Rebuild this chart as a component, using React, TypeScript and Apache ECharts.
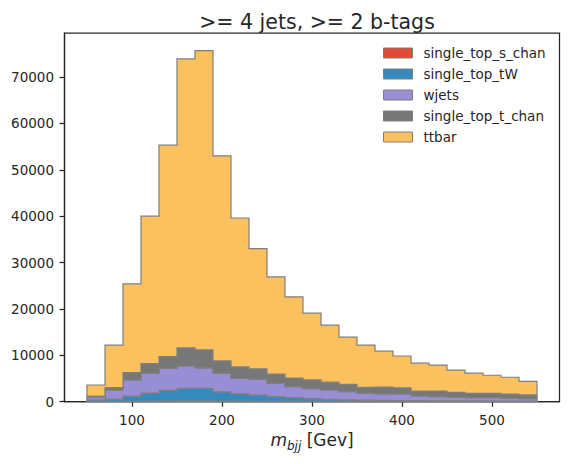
import React, { useEffect, useRef } from "react";
import * as echarts from "echarts";

const binEdges = [50, 70, 90, 110, 130, 150, 170, 190, 210, 230, 250, 270, 290, 310, 330, 350, 370, 390, 410, 430, 450, 470, 490, 510, 530, 550];

const singleTopSChan = [20, 40, 80, 120, 160, 200, 200, 150, 120, 100, 80, 70, 60, 50, 40, 35, 30, 28, 25, 22, 20, 18, 16, 15, 14];
const singleTopTW = [380, 510, 1120, 1730, 2290, 2700, 2700, 1950, 1580, 1300, 1020, 830, 590, 470, 360, 285, 250, 222, 195, 178, 160, 142, 124, 115, 106];
const wjets = [550, 1950, 3500, 4250, 4750, 4800, 4400, 4000, 3300, 3430, 2830, 2340, 2160, 2000, 1760, 1480, 1420, 1410, 1010, 880, 770, 700, 720, 600, 530];
const singleTopTChan = [250, 550, 1550, 2100, 2500, 3900, 3900, 2700, 2500, 2270, 2020, 1860, 1890, 1680, 1590, 1300, 1450, 1340, 1070, 1220, 1050, 940, 940, 920, 800];
const ttbar = [2400, 9150, 19150, 31800, 45600, 62300, 64500, 44200, 32100, 25900, 20950, 17500, 14400, 12300, 10150, 9100, 7750, 6850, 6000, 5600, 4800, 4350, 3900, 3620, 2950];

const seriesNames = ["single_top_s_chan", "single_top_tW", "wjets", "single_top_t_chan", "ttbar"];
const seriesColors = ["#E24A33", "#348ABD", "#988ED5", "#777777", "#FBC15E"];

const xTickValues = [100, 200, 300, 400, 500];
const yTickValues = [0, 10000, 20000, 30000, 40000, 50000, 60000, 70000];

const TEXT = "#262626";
const EDGE = "#7f7f7f";
const FONT = "DejaVu Sans";

export default function App() {
  const ref = useRef<HTMLDivElement>(null);

  useEffect(() => {
    const chart = echarts.init(ref.current!, null, { renderer: "svg" });
    const layers = [singleTopSChan, singleTopTW, wjets, singleTopTChan, ttbar];
    const nBins = binEdges.length - 1;
    const bases: number[][] = [];
    const tops: number[][] = [];
    let running: number[] = new Array(nBins).fill(0);
    layers.forEach((l) => {
      bases.push(running.slice());
      running = running.map((v, i) => v + l[i]);
      tops.push(running.slice());
    });
    const yMax = Math.max(...running) * 1.05;
    const span = binEdges[nBins] - binEdges[0];
    const xMin = binEdges[0] - span * 0.05;
    const xMax = binEdges[nBins] + span * 0.05;

    const series = layers.map((l, k) => ({
      type: "custom",
      name: seriesNames[k],
      itemStyle: { color: seriesColors[k], borderColor: EDGE, borderWidth: 1 },
      data: l.map((v, i) => [binEdges[i], binEdges[i + 1], bases[k][i], tops[k][i]]),
      encode: { x: [0, 1], y: [2, 3] },
      renderItem: (params: any, api: any) => {
        if (params.dataIndex !== 0) return null;
        const pts: number[][] = [];
        for (let i = 0; i < nBins; i++) {
          pts.push(api.coord([binEdges[i], tops[k][i]]));
          pts.push(api.coord([binEdges[i + 1], tops[k][i]]));
        }
        for (let i = nBins - 1; i >= 0; i--) {
          pts.push(api.coord([binEdges[i + 1], bases[k][i]]));
          pts.push(api.coord([binEdges[i], bases[k][i]]));
        }
        return {
          type: "polygon",
          shape: { points: pts },
          style: { fill: seriesColors[k], stroke: EDGE, lineWidth: 1.2 },
        };
      },
    }));

    chart.setOption({
      animation: false,
      textStyle: { fontFamily: FONT },
      title: {
        text: ">= 4 jets, >= 2 b-tags",
        left: 312,
        top: 6,
        textAlign: "center",
        textStyle: { fontSize: 20.5, fontWeight: "normal", color: TEXT, fontFamily: FONT },
      },
      legend: {
        orient: "vertical",
        left: 383,
        top: 46,
        padding: 0,
        itemWidth: 29,
        itemHeight: 10,
        itemGap: 7,
        icon: "rect",
        data: seriesNames.map((n, k) => ({
          name: n,
          itemStyle: { color: seriesColors[k], borderColor: EDGE, borderWidth: 1 },
        })),
        textStyle: { fontSize: 13.5, color: TEXT, fontFamily: FONT, lineHeight: 14, padding: [0, 0, 0, 6] },
      },
      grid: {
        left: 64.5,
        right: 10.5,
        top: 33,
        bottom: 62.3,
        show: true,
        borderColor: TEXT,
        borderWidth: 1.25,
        containLabel: false,
      },
      xAxis: {
        type: "value",
        min: xMin,
        max: xMax,
        splitLine: { show: false },
        axisLine: { show: true, lineStyle: { color: TEXT, width: 1.25 } },
        axisTick: { show: true, length: 5, customValues: xTickValues, lineStyle: { color: TEXT, width: 1.25 } },
        axisLabel: {
          customValues: xTickValues,
          fontSize: 13.5,
          color: TEXT,
          margin: 11,
          fontFamily: FONT,
          formatter: (v: number) => String(v),
        },
        name: "{i|m}{s|bjj}{n| [Gev]}",
        nameLocation: "middle",
        nameGap: 27,
        nameTextStyle: {
          rich: {
            i: { fontStyle: "italic", fontSize: 17, color: TEXT, fontFamily: FONT, lineHeight: 23, verticalAlign: "middle" },
            s: { fontStyle: "italic", fontSize: 12, color: TEXT, fontFamily: FONT, lineHeight: 23, verticalAlign: "bottom" },
            n: { fontSize: 17, color: TEXT, fontFamily: FONT, lineHeight: 23, verticalAlign: "middle" },
          },
        },
      },
      yAxis: {
        type: "value",
        min: 0,
        max: yMax,
        splitLine: { show: false },
        axisLine: { show: true, lineStyle: { color: TEXT, width: 1.25 } },
        axisTick: { show: true, length: 5, customValues: yTickValues, lineStyle: { color: TEXT, width: 1.25 } },
        axisLabel: {
          customValues: yTickValues,
          fontSize: 13.5,
          color: TEXT,
          margin: 10.5,
          fontFamily: FONT,
          formatter: (v: number) => String(v),
        },
      },
      series,
    } as any);

    return () => chart.dispose();
  }, []);

  return (
    <div
      ref={ref}
      style={{ position: "fixed", left: 0, top: 0, width: 570, height: 464, background: "#fff" }}
    />
  );
}
